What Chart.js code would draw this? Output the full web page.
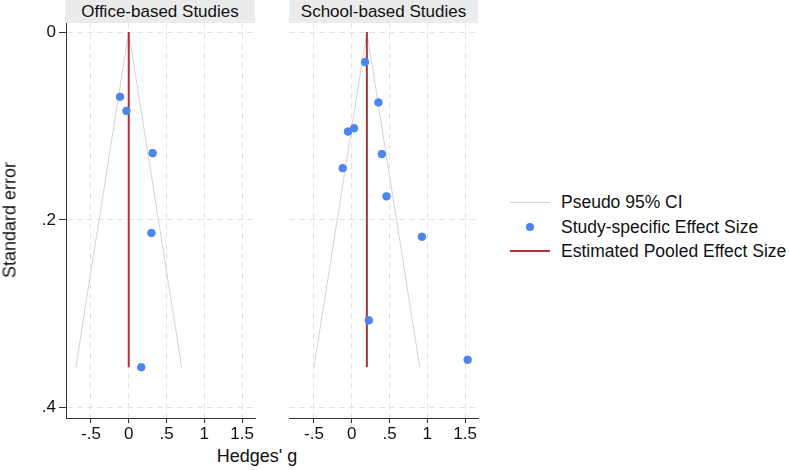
<!DOCTYPE html>
<html>
<head>
<meta charset="utf-8">
<script src="https://cdn.jsdelivr.net/npm/chart.js@4.4.1/dist/chart.umd.min.js"></script>
<style>
    body { margin: 0; background: #fff; font-family: "Liberation Sans", Arial, Helvetica, sans-serif; color: #111; }
    #wrap { position: relative; width: 789px; height: 470px; overflow: hidden; }
    canvas { position: absolute; }
    .strip { position: absolute; top: 0; height: 23px; background: #ebebeb; font-size: 17px; line-height: 24px; text-align: center; white-space: nowrap; }
    .ytitle { position: absolute; left: 10px; top: 220px; font-size: 18px; white-space: nowrap; transform: translate(-50%, -50%) rotate(-90deg); }
    .xtitle { position: absolute; left: 257px; top: 456px; font-size: 18px; white-space: nowrap; transform: translate(-50%, -50%); }
    #legend { position: absolute; left: 510px; top: 190px; font-size: 17.5px; }
    .fila { position: relative; height: 24.5px; line-height: 24px; padding-left: 51px; white-space: nowrap; }
    .muestra { position: absolute; left: 0; top: 12px; width: 40px; }
    .punto { position: absolute; left: 16px; top: 8px; width: 8px; height: 8px; border-radius: 50%; background: #4a86ec; }
</style>
</head>
<body>
<div id="wrap">
    <div class="strip" style="left:65px; width:190px;">Office-based Studies</div>
    <div class="strip" style="left:289px; width:189px;">School-based Studies</div>
    <canvas id="chartOficina" width="262" height="445" style="left:0; top:0;"></canvas>
    <canvas id="chartEscuela" width="205" height="445" style="left:282px; top:0;"></canvas>
    <div class="ytitle">Standard error</div>
    <div class="xtitle">Hedges' g</div>
    <div id="legend">
        <div class="fila"><span class="muestra" style="border-top:1px solid #d4d4d4;"></span>Pseudo 95% CI</div>
        <div class="fila"><span class="punto"></span>Study-specific Effect Size</div>
        <div class="fila"><span class="muestra" style="border-top:2px solid #b0323f; top:11px;"></span>Estimated Pooled Effect Size</div>
    </div>
</div>
<script>
// ticks
const xTicks = [-0.5, 0, 0.5, 1, 1.5];
const yTicks = [0, 0.2, 0.4];

// Office-based: Hedges' g y error estandar
const oficinaG  = [-0.115, -0.03, 0.316, 0.30, 0.166];
const oficinaSE = [0.069, 0.084, 0.129, 0.214, 0.357];
const oficinaPooled = 0;
const oficinaCIx = [-0.70, 0, 0.70];
const oficinaCIy = [0.357, 0, 0.357];

// School-based
const escuelaG  = [0.176, 0.353, -0.05, 0.03, 0.398, -0.12, 0.459, 0.928, 0.225, 1.533];
const escuelaSE = [0.032, 0.075, 0.106, 0.1025, 0.130, 0.145, 0.175, 0.218, 0.307, 0.349];
const escuelaPooled = 0.2;
const escuelaCIx = [-0.50, 0.2, 0.90];
const escuelaCIy = [0.357, 0, 0.357];
const poolSEmax = 0.357;

Chart.defaults.font.family = '"Liberation Sans", Arial, Helvetica, sans-serif';
Chart.defaults.font.size = 17;
Chart.defaults.color = '#111';

function formatoTick(v) {
    if (v === 0) return '0';
    return String(v).replace('0.', '.');
}

function crearPanel(id, g, se, pooled, ciX, ciY, conEjeY) {
    const ctx = document.getElementById(id).getContext('2d');
    // en v4 el guion de la rejilla va en border.dash
    const rejilla = {
        color: '#e3e3e3',
        lineWidth: 1,
        tickColor: '#333',
        tickBorderDash: [],
        tickWidth: 1
    };
    return new Chart(ctx, {
        type: 'scatter',
        data: {
            datasets: [
                {
                    label: 'Study-specific Effect Size',
                    data: g.map((v, i) => ({ x: v, y: se[i] })),
                    backgroundColor: '#4a86ec',
                    borderColor: '#4a86ec',
                    pointRadius: 3.8,
                    order: 0
                },
                {
                    label: 'Estimated Pooled Effect Size',
                    data: [{ x: pooled, y: 0 }, { x: pooled, y: poolSEmax }],
                    showLine: true,
                    borderColor: '#b0323f',
                    borderWidth: 2,
                    pointRadius: 0,
                    order: 1
                },
                {
                    label: 'Pseudo 95% CI',
                    data: ciX.map((v, i) => ({ x: v, y: ciY[i] })),
                    showLine: true,
                    borderColor: '#d4d4d4',
                    borderWidth: 1,
                    pointRadius: 0,
                    order: 2
                }
            ]
        },
        options: {
            responsive: false,
            animation: false,
            layout: { padding: conEjeY ? { top: 23, right: 7, left: 0, bottom: 0 } : { top: 23, right: 9, left: 7, bottom: 0 } },
            plugins: { legend: { display: false }, tooltip: { enabled: false }, title: { display: false } },
            scales: {
                x: {
                    type: 'linear',
                    min: -0.83,
                    max: 1.67,
                    afterBuildTicks: s => { s.ticks = xTicks.map(v => ({ value: v })); },
                    afterFit: s => { s.height = 27; },
                    ticks: { callback: formatoTick, padding: 1, maxRotation: 0, autoSkip: false },
                    grid: Object.assign({ tickLength: 5 }, rejilla),
                    border: { display: true, color: '#333', width: 1, dash: [6, 4] }
                },
                y: {
                    type: 'linear',
                    reverse: true,
                    min: -0.0096,
                    max: 0.411,
                    afterBuildTicks: s => { s.ticks = yTicks.map(v => ({ value: v })); },
                    afterFit: s => { s.width = conEjeY ? 66 : 0; },
                    ticks: { display: conEjeY, callback: formatoTick, padding: 3 },
                    grid: Object.assign({ tickLength: 7, drawTicks: conEjeY }, rejilla),
                    border: { display: conEjeY, color: '#333', width: 1, dash: [6, 4] }
                }
            }
        }
    });
}

crearPanel('chartOficina', oficinaG, oficinaSE, oficinaPooled, oficinaCIx, oficinaCIy, true);
crearPanel('chartEscuela', escuelaG, escuelaSE, escuelaPooled, escuelaCIx, escuelaCIy, false);
</script>
</body>
</html>
